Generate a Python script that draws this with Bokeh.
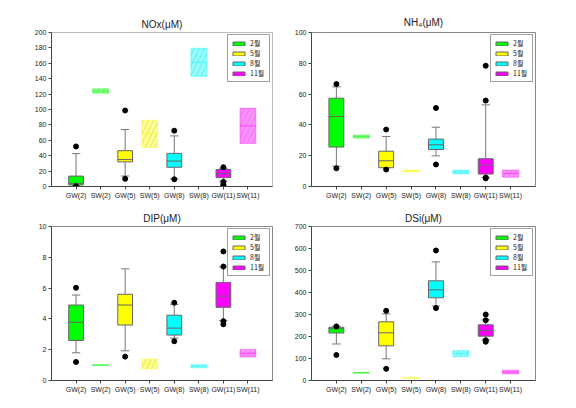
from bokeh.plotting import figure
from bokeh.models import ColumnDataSource, Legend, LegendItem, FixedTicker, Range1d
from bokeh.layouts import gridplot
from bokeh.embed import file_html
from bokeh.resources import INLINE

cats = ["GW(2)", "SW(2)", "GW(5)", "SW(5)", "GW(8)", "SW(8)", "GW(11)", "SW(11)"]
months = ["2월", "5월", "8월", "11월"]
colors = ["#00FF00", "#FFFF00", "#00FFFF", "#FF00FF"]

# NOx (uM)
nox_gw_lo = [1.0, 13.6, 10.0, 7.0]
nox_gw_q1 = [2.0, 32.0, 25.0, 11.5]
nox_gw_med = [4.0, 35.0, 33.0, 16.6]
nox_gw_q3 = [13.5, 46.5, 43.0, 22.0]
nox_gw_hi = [42.7, 74.0, 65.7, 23.5]
nox_gw_out = [[52.0, 0.3], [98.7, 10.0], [72.5, 9.4], [25.0, 6.0, 3.0, 1.0]]
nox_sw_lo = [121.0, 50.7, 143.0, 56.0]
nox_sw_hi = [127.0, 86.0, 179.5, 101.5]

# NH4 (uM)
nh4_gw_lo = [13.2, 12.2, 19.9, 6.0]
nh4_gw_q1 = [25.6, 12.2, 24.0, 8.1]
nh4_gw_med = [45.5, 16.7, 27.1, 13.9]
nh4_gw_q3 = [57.3, 22.9, 30.8, 18.0]
nh4_gw_hi = [64.7, 32.5, 38.5, 53.0]
nh4_gw_out = [[66.5, 11.8], [37.0, 11.0], [51.0, 14.3], [78.4, 55.8, 5.8, 5.3]]
nh4_sw_lo = [31.4, 9.6, 8.1, 6.0]
nh4_sw_hi = [33.5, 10.7, 10.7, 10.7]

# DIP (uM)
dip_gw_lo = [1.8, 1.93, 2.75, 3.9]
dip_gw_q1 = [2.6, 3.6, 2.95, 4.75]
dip_gw_med = [3.78, 4.9, 3.4, 5.48]
dip_gw_q3 = [4.9, 5.6, 4.24, 6.37]
dip_gw_hi = [5.55, 7.25, 4.95, 7.38]
dip_gw_out = [[6.02, 1.2], [1.55], [5.05, 2.55], [8.38, 7.4, 3.85, 3.65]]
dip_sw_lo = [0.98, 0.75, 0.82, 1.53]
dip_sw_hi = [1.02, 1.4, 1.03, 2.02]

# DSi (uM)
dsi_gw_lo = [166.0, 98.5, 339.0, 185.0]
dsi_gw_q1 = [216.0, 157.6, 376.0, 201.5]
dsi_gw_med = [235.0, 216.7, 412.0, 227.0]
dsi_gw_q3 = [242.0, 266.7, 453.0, 253.0]
dsi_gw_hi = [246.0, 303.0, 539.0, 276.0]
dsi_gw_out = [[246.0, 116.0], [316.7, 53.0], [591.0, 329.0], [300.0, 274.0, 183.0, 176.0]]
dsi_sw_lo = [33.0, 10.0, 107.6, 30.0]
dsi_sw_hi = [37.0, 14.0, 136.0, 47.0]

FONT = "Liberation Sans"


def panel(title, ymax, ystep, lo, q1, med, q3, hi, outs, slo, shi, borders, outline, standoff):
    bl, br, bt, bb = borders
    p = figure(width=288, height=204, x_range=Range1d(0, 9), y_range=Range1d(0, ymax),
               output_backend="svg", toolbar_location=None, title=title,
               min_border_left=bl, min_border_right=br, min_border_top=bt, min_border_bottom=bb)
    p.title.align = "center"
    p.title.text_font = FONT
    p.title.text_font_size = "10px"
    p.title.text_font_style = "normal"
    p.title.text_color = "#222222"
    p.title.standoff = standoff
    p.xgrid.visible = False
    p.ygrid.visible = False
    p.outline_line_color = outline
    p.background_fill_color = "white"

    gx = [cats.index("GW(%s)" % m[:-1]) + 1 for m in months]
    sx = [cats.index("SW(%s)" % m[:-1]) + 1 for m in months]

    # whiskers
    p.segment(gx, lo, gx, q1, line_color="#777777", line_width=1)
    p.segment(gx, q3, gx, hi, line_color="#777777", line_width=1)
    p.segment([x - 0.17 for x in gx], lo, [x + 0.17 for x in gx], lo, line_color="#777777")
    p.segment([x - 0.17 for x in gx], hi, [x + 0.17 for x in gx], hi, line_color="#777777")

    src = ColumnDataSource(dict(x=gx, bottom=q1, top=q3, color=colors))
    boxes = p.vbar(x="x", bottom="bottom", top="top", width=0.6, source=src,
                   fill_color="color", line_color="#666666", line_width=1)
    p.segment([x - 0.3 for x in gx], med, [x + 0.3 for x in gx], med, line_color="#666666")

    # surface water bars (two samples)
    smid = [(a + b) / 2 for a, b in zip(slo, shi)]
    ssrc = ColumnDataSource(dict(x=sx, bottom=slo, top=shi, color=colors))
    p.vbar(x="x", bottom="bottom", top="top", width=0.65, source=ssrc,
           fill_color="color", fill_alpha=0.45, line_color="color", line_alpha=0.35,
           hatch_pattern="/", hatch_color="#777777", hatch_alpha=0.25, hatch_scale=10, hatch_weight=1)
    p.segment([x - 0.32 for x in sx], smid, [x + 0.32 for x in sx], smid,
              line_color=colors, line_alpha=0.5)

    ox, oy = [], []
    for x, vals in zip(gx, outs):
        for v in vals:
            ox.append(x)
            oy.append(v)
    p.scatter(ox, oy, size=5, color="black")

    for ax in (p.xaxis[0], p.yaxis[0]):
        ax.axis_line_color = "#444444"
        ax.major_tick_line_color = "#444444"
        ax.major_tick_in = 0
        ax.major_tick_out = 3
        ax.minor_tick_line_color = None
        ax.major_label_text_font = FONT
        ax.major_label_text_font_size = "7px"
        ax.major_label_text_color = "#222222"
        ax.major_label_standoff = 2
    p.yaxis.ticker = FixedTicker(ticks=list(range(0, ymax + 1, ystep)))
    p.xaxis.ticker = FixedTicker(ticks=list(range(1, len(cats) + 1)))
    p.xaxis.major_label_overrides = {i + 1: c for i, c in enumerate(cats)}

    items = [LegendItem(label=m, renderers=[boxes], index=i) for i, m in enumerate(months)]
    leg = Legend(items=items, location="top_right", margin=2, padding=3, spacing=0,
                 glyph_width=15, glyph_height=5, label_height=8, label_width=16, label_standoff=4,
                 label_text_font="Noto Sans CJK KR", label_text_font_size="7px",
                 label_text_line_height=1.0, label_text_color="#222222",
                 border_line_color="#444444", border_line_width=1, background_fill_alpha=1)
    p.add_layout(leg)
    return p


p1 = panel("NOx(μM)", 200, 20, nox_gw_lo, nox_gw_q1, nox_gw_med, nox_gw_q3, nox_gw_hi, nox_gw_out,
           nox_sw_lo, nox_sw_hi, (51, 14, 29, 18), "#bbbbbb", 6)
p2 = panel("NH₄(μM)", 100, 20, nh4_gw_lo, nh4_gw_q1, nh4_gw_med, nh4_gw_q3, nh4_gw_hi, nh4_gw_out,
           nh4_sw_lo, nh4_sw_hi, (23, 41, 32, 16), "#888888", 9)
p3 = panel("DIP(μM)", 10, 2, dip_gw_lo, dip_gw_q1, dip_gw_med, dip_gw_q3, dip_gw_hi, dip_gw_out,
           dip_sw_lo, dip_sw_hi, (48, 16, 21, 28), "#888888", 5)
p4 = panel("DSi(μM)", 700, 100, dsi_gw_lo, dsi_gw_q1, dsi_gw_med, dsi_gw_q3, dsi_gw_hi, dsi_gw_out,
           dsi_sw_lo, dsi_sw_hi, (23, 41, 22, 28), "#888888", 6)

grid = gridplot([[p1, p2], [p3, p4]], toolbar_location=None)
open("out.html", "w").write(file_html(grid, INLINE))
